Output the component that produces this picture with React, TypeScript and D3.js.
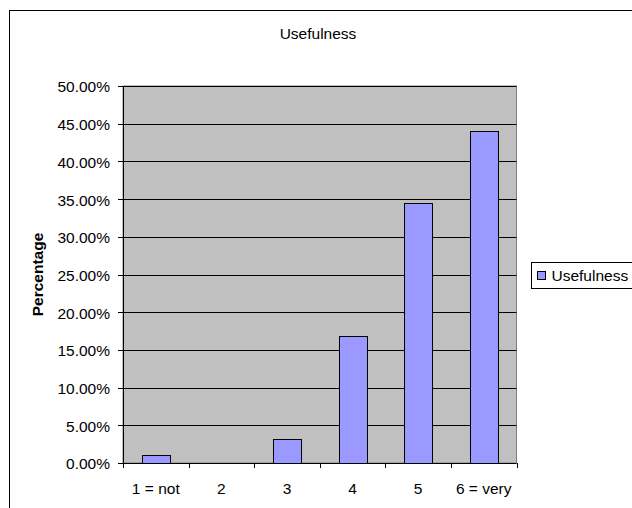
import React from "react";
import * as d3 from "d3";

const categories = ["1 = not", "2", "3", "4", "5", "6 = very"];
const usefulness = [0.010, 0.0, 0.032, 0.169, 0.345, 0.440];
const yTicks = [0, 0.05, 0.1, 0.15, 0.2, 0.25, 0.3, 0.35, 0.4, 0.45, 0.5];
const seriesName = "Usefulness";
const chartTitle = "Usefulness";
const yAxisTitle = "Percentage";

const W = 632;
const H = 508;
const plot = { left: 123, right: 516.5, top: 86, bottom: 463 };
const font = "'Liberation Sans', Arial, sans-serif";
const fs = 15.5;

export default function App() {
  const x = d3
    .scaleBand<string>()
    .domain(categories)
    .range([plot.left, plot.right])
    .paddingInner(0.58)
    .paddingOuter(0.29);
  const band = d3.scaleBand<string>().domain(categories).range([plot.left, plot.right]);
  const y = d3.scaleLinear().domain([0, 0.5]).range([plot.bottom, plot.top]);
  const fmt = d3.format(".2%");

  return (
    <svg
      width={W}
      height={H}
      style={{ position: "absolute", left: 0, top: 0, background: "#fff" }}
      fontFamily={font}
    >
      {/* chart frame */}
      <rect x={9.5} y={10.5} width={W + 20} height={H + 20} fill="#fff" stroke="#000" strokeWidth={1} />

      <text x={318} y={38.5} textAnchor="middle" fontSize={fs}>
        {chartTitle}
      </text>

      {/* plot area */}
      <rect
        x={plot.left}
        y={plot.top}
        width={plot.right - plot.left}
        height={plot.bottom - plot.top}
        fill="#C0C0C0"
        stroke="#808080"
        strokeWidth={1}
      />

      {/* horizontal gridlines */}
      {yTicks.slice(1).map((t) => (
        <line
          key={"g" + t}
          x1={plot.left}
          x2={plot.right}
          y1={Math.round(y(t)) + 0.5}
          y2={Math.round(y(t)) + 0.5}
          stroke="#000"
          strokeWidth={1}
        />
      ))}

      {/* bars */}
      {categories.map((c, i) =>
        usefulness[i] > 0 ? (
          <rect
            key={c}
            x={Math.round(x(c)!) + 0.5}
            y={Math.round(y(usefulness[i])) + 0.5}
            width={Math.round(x.bandwidth())}
            height={Math.round(y(0)) - Math.round(y(usefulness[i]))}
            fill="#9999FF"
            stroke="#000"
            strokeWidth={1}
          />
        ) : null
      )}

      {/* y axis */}
      <line x1={plot.left + 0.5} x2={plot.left + 0.5} y1={plot.top} y2={plot.bottom} stroke="#000" />
      {yTicks.map((t) => (
        <g key={"t" + t}>
          <line
            x1={plot.left - 5}
            x2={plot.left}
            y1={Math.round(y(t)) + 0.5}
            y2={Math.round(y(t)) + 0.5}
            stroke="#000"
          />
          <text x={plot.left - 13} y={y(t) + 1} dy="0.35em" textAnchor="end" fontSize={fs}>
            {fmt(t)}
          </text>
        </g>
      ))}

      {/* x axis */}
      <line
        x1={plot.left}
        x2={plot.right}
        y1={Math.round(y(0)) + 0.5}
        y2={Math.round(y(0)) + 0.5}
        stroke="#000"
      />
      {[...categories.map((c) => band(c)!), plot.right].map((bx, i) => (
        <line
          key={"xt" + i}
          x1={Math.round(bx) + 0.5}
          x2={Math.round(bx) + 0.5}
          y1={plot.bottom}
          y2={plot.bottom + 5}
          stroke="#000"
        />
      ))}
      {categories.map((c) => (
        <text
          key={"xl" + c}
          x={band(c)! + band.bandwidth() / 2}
          y={494}
          textAnchor="middle"
          fontSize={fs}
        >
          {c}
        </text>
      ))}

      <text
        transform={`translate(43,${(plot.top + plot.bottom) / 2}) rotate(-90)`}
        textAnchor="middle"
        fontSize={fs}
        fontWeight="bold"
      >
        {yAxisTitle}
      </text>

      {/* legend */}
      <rect x={531.5} y={262.5} width={120} height={26} fill="#fff" stroke="#000" />
      <rect x={537.5} y={271.5} width={8} height={8} fill="#9999FF" stroke="#000" />
      <text x={551.5} y={276} dy="0.35em" fontSize={fs}>
        {seriesName}
      </text>
    </svg>
  );
}
